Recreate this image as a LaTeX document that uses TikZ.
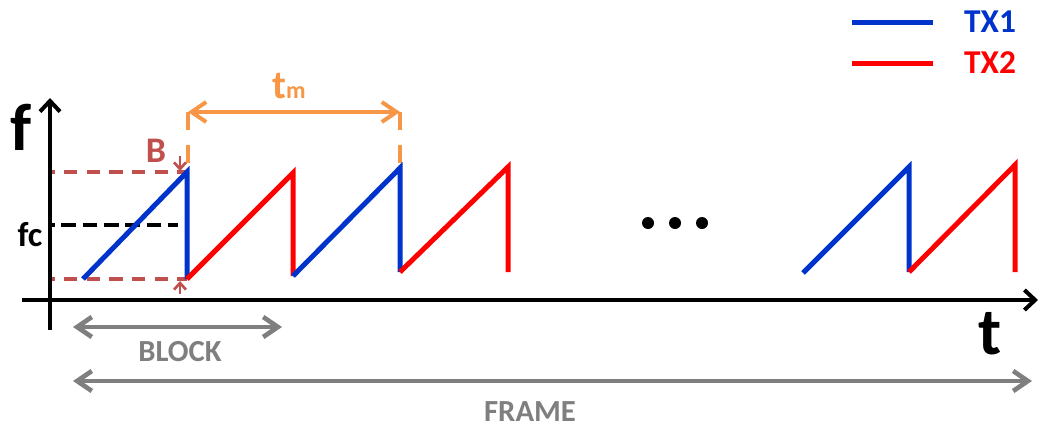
\documentclass[tikz,border=0pt]{standalone}
\usepackage{fontspec}
\setmainfont{Carlito}
\usetikzlibrary{arrows.meta}
\definecolor{txone}{RGB}{0,51,204}
\definecolor{txtwo}{RGB}{255,0,0}
\definecolor{bandc}{RGB}{192,80,77}
\definecolor{sweepc}{RGB}{247,150,70}
\definecolor{spanc}{RGB}{127,127,127}
\tikzset{
  lbl/.style={inner sep=0pt, font=\bfseries},
  axisline/.style={line width=3pt, black, -{Straight Barb[length=8pt,width=15pt]}},
  chirpone/.style={draw=txone, line width=3.75pt},
  chirptwo/.style={draw=txtwo, line width=3.75pt},
  bandguide/.style={draw=bandc, line width=2.5pt, dash pattern=on 10pt off 7pt, dash phase=8pt},
  centreguide/.style={draw=black, line width=2.4pt, dash pattern=on 11pt off 5pt, dash phase=9pt},
  sweepguide/.style={draw=sweepc, line width=3pt, dash pattern=on 13.5pt off 11pt},
  sweeparrow/.style={draw=sweepc, line width=3pt, {Straight Barb[length=11pt,width=15pt]}-{Straight Barb[length=11pt,width=15pt]}},
  bandarrow/.style={draw=bandc, line width=2pt, -{Straight Barb[length=5pt,width=9pt]}},
  spanarrow/.style={draw=spanc, line width=3.5pt, {Straight Barb[length=11pt,width=15pt]}-{Straight Barb[length=11pt,width=15pt]}},
  dot/.style={circle, fill=black, inner sep=0pt, minimum size=9pt},
}
\begin{document}
\begin{tikzpicture}[x=0.75pt,y=-0.75pt]
\useasboundingbox (0,0) rectangle (1042,429);

% axes
\coordinate (fbot) at (50,330);
\coordinate (ftop) at (50,98);
\coordinate (tleft) at (22,300);
\coordinate (tright) at (1038,300);
\draw[axisline] (fbot) -- (ftop);
\draw[axisline] (tleft) -- (tright);
\node[lbl, font=\bfseries\fontsize{50}{52}\selectfont] (flabel) at (21,127.5) {f};
\node[lbl, font=\bfseries\fontsize{50}{52}\selectfont] (tlabel) at (990,333.5) {t};

% guide levels
\coordinate (hiL) at (52,172);  \coordinate (hiR) at (187,172);
\coordinate (loL) at (52,279);  \coordinate (loR) at (187,279);
\coordinate (fcL) at (52,225);  \coordinate (fcR) at (178,225);
\draw[bandguide] (hiL) -- (hiR);
\draw[bandguide] (loL) -- (loR);
\draw[centreguide] (fcL) -- (fcR);
\node[lbl, font=\bfseries\fontsize{26}{28}\selectfont] (fc) at (30,235) {fc};

% bandwidth markers
\coordinate (bTopS) at (180,156);
\coordinate (bTopE) at (180,171);
\coordinate (bBotS) at (180,294);
\coordinate (bBotE) at (180,281);
\draw[bandarrow] (bTopS) -- (bTopE);
\draw[bandarrow] (bBotS) -- (bBotE);
\node[lbl, text=bandc, font=\bfseries\fontsize{27}{29}\selectfont] (B) at (156,151) {B};

% chirp period marker
\coordinate (tmA) at (188,112);
\coordinate (tmB) at (400,112);
\coordinate (tmAd) at (188,164);
\coordinate (tmBd) at (400,164);
\draw[sweepguide] (tmA) -- (tmAd);
\draw[sweepguide] (tmB) -- (tmBd);
\draw[sweeparrow] (tmA) -- (tmB);
\node[lbl, text=sweepc, anchor=base west, font=\bfseries\fontsize{30}{31}\selectfont] (tm) at (272,98) {t{\fontsize{18}{18}\selectfont m}};

% chirp sequence
\coordinate (a0) at (83,279);  \coordinate (a1) at (187,172);  \coordinate (a2) at (187,279);
\coordinate (b1) at (293,173); \coordinate (b2) at (293,276);
\coordinate (c1) at (400,168); \coordinate (c2) at (400,272);
\coordinate (d1) at (508,167); \coordinate (d2) at (508,272);
\coordinate (e0) at (803,273); \coordinate (e1) at (909,167); \coordinate (e2) at (909,272);
\coordinate (g1) at (1015,165); \coordinate (g2) at (1015,272);
\draw[chirpone] (a0) -- (a1) -- (a2);
\draw[chirptwo] (a2) -- (b1) -- (b2);
\draw[chirpone] (b2) -- (c1) -- (c2);
\draw[chirptwo] (c2) -- (d1) -- (d2);
\draw[chirpone] (e0) -- (e1) -- (e2);
\draw[chirptwo] (e2) -- (g1) -- (g2);

% ellipsis
\node[dot] (dotA) at (648,223) {};
\node[dot] (dotB) at (675,223) {};
\node[dot] (dotC) at (702,223) {};

% block and frame spans
\coordinate (blkL) at (73,327);
\coordinate (blkR) at (282,327);
\coordinate (frmL) at (73,381);
\coordinate (frmR) at (1032,381);
\draw[spanarrow] (blkL) -- (blkR);
\draw[spanarrow] (frmL) -- (frmR);
\node[lbl, text=spanc, font=\bfseries\fontsize{23}{25}\selectfont] (block) at (180,352) {BLOCK};
\node[lbl, text=spanc, font=\bfseries\fontsize{23}{25}\selectfont] (frame) at (530,412) {FRAME};

% legend
\coordinate (l1a) at (852,22); \coordinate (l1b) at (933,22);
\coordinate (l2a) at (852,63); \coordinate (l2b) at (933,63);
\draw[chirpone] (l1a) -- (l1b);
\draw[chirptwo] (l2a) -- (l2b);
\node[lbl, text=txone, font=\bfseries\fontsize{25}{27}\selectfont] (tx1) at (990,22) {TX1};
\node[lbl, text=txtwo, font=\bfseries\fontsize{25}{27}\selectfont] (tx2) at (990,63) {TX2};
\end{tikzpicture}
\end{document}
